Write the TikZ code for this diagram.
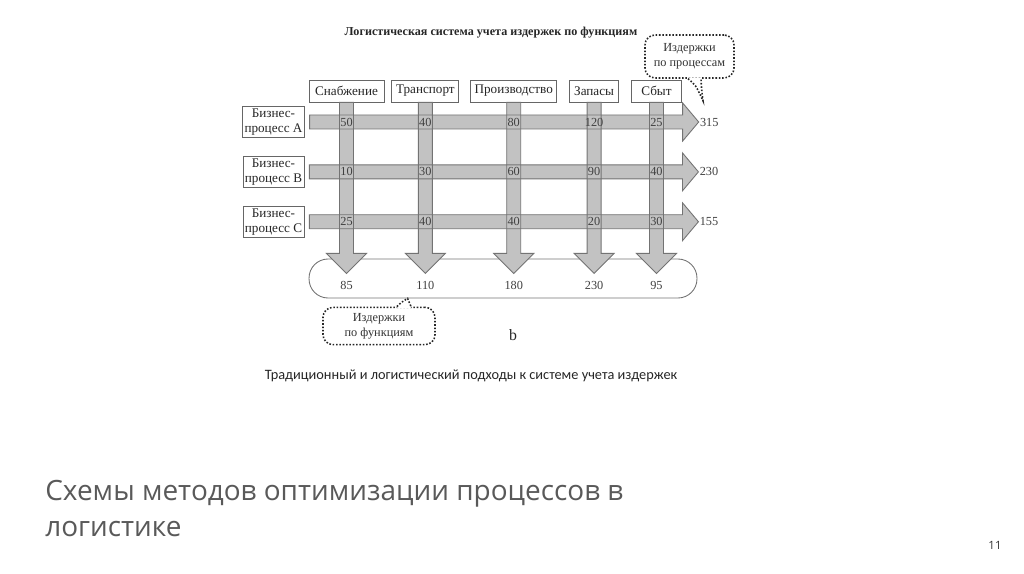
\documentclass[tikz,border=0pt]{standalone}
\usepackage{fontspec}
\setmainfont{Liberation Serif}
\newfontfamily\capfont{Carlito}
\newfontfamily\headfont{Open Sans}
\usetikzlibrary{calc}
\usetikzlibrary{positioning}

\begin{document}
\begin{tikzpicture}[x=0.02cm, y=-0.02cm,
    funcbox/.style={rectangle, draw=black!60, fill=white, line width=0.5pt, minimum height=0.44cm, inner sep=1pt, text=black!85, font=\fontsize{7.5}{9}\selectfont},
    procbox/.style={rectangle, draw=black!60, fill=white, line width=0.5pt, minimum width=1.22cm, minimum height=0.62cm, inner sep=1pt, align=center, text=black!85, font=\fontsize{7.5}{8.6}\selectfont},
    bandfill/.style={fill=black!24},
    bandline/.style={draw=black!55, line width=0.5pt},
    val/.style={inner sep=0pt, text=black!75, font=\fontsize{7}{8}\selectfont},
    note/.style={rectangle, rounded corners=0.2cm, draw=black!85, densely dotted, line width=0.9pt, fill=white, align=center, text=black!80, font=\fontsize{7}{8.5}\selectfont},
    noteline/.style={draw=black!85, densely dotted, line width=0.9pt}
]
    \useasboundingbox (0,0) rectangle (1024,574);

    \node [font=\bfseries\fontsize{6.9}{8}\selectfont, text=black!85] (title) at (491,33) {Логистическая система учета издержек по функциям};

    \node [funcbox, minimum width=1.5cm] (supply) at (346.5,91) {Снабжение};
    \node [funcbox, minimum width=1.34cm, right=0.14cm of supply] (transport) {Транспорт};
    \node [funcbox, minimum width=1.72cm, right=0.22cm of transport] (production) {Производство};
    \node [funcbox, minimum width=0.98cm, right=0.24cm of production] (stock) {Запасы};
    \node [funcbox, minimum width=1.0cm, right=0.24cm of stock] (sales) {Сбыт};

    \node [procbox] (procA) at (273.5,122) {Бизнес-\\процесс A};
    \node [procbox, below=0.36cm of procA] (procB) {Бизнес-\\процесс B};
    \node [procbox, below=0.36cm of procB] (procC) {Бизнес-\\процесс C};

    \node [draw=black!55, line width=0.5pt, rounded corners=0.38cm, minimum width=7.76cm, minimum height=0.78cm, inner sep=0pt] (funcSum) at (503,278.5) {};

    \foreach \look in {bandfill, bandline} {
        \foreach \p in {procA, procB, procC}
            \path [\look] (\p.east) ++(5,-7) -- ++(373,0) -- ++(0,-12) -- ++(16,19) coordinate (\p Tip) -- ++(-16,19) -- ++(0,-12) -- ++(-373,0) -- cycle;
        \foreach \b in {supply, transport, production, stock, sales}
            \path [\look] (\b.south) ++(-7,0) -- ++(0,151) -- ++(-13,0) -- ++(20,20) -- ++(20,-20) -- ++(-13,0) -- ++(0,-151) -- cycle;
    }

    \foreach \b/\va/\vb/\vc/\s in {supply/50/10/25/85, transport/40/30/40/110, production/80/60/40/180, stock/120/90/20/230, sales/25/40/30/95} {
        \node [val] (\b A) at (\b |- procATip) {\va};
        \node [val] (\b B) at (\b |- procBTip) {\vb};
        \node [val] (\b C) at (\b |- procCTip) {\vc};
        \node [val] (\b Sum) at ($(\b |- funcSum.south)+(0,-13)$) {\s};
    }

    \node [val, anchor=west] (totalA) at ($(procATip)+(1,0)$) {315};
    \node [val, anchor=west] (totalB) at ($(procBTip)+(1,0)$) {230};
    \node [val, anchor=west] (totalC) at ($(procCTip)+(1,0)$) {155};

    \node [note, minimum width=1.78cm, minimum height=0.86cm] (procNote) at (689.5,56.5) {Издержки\\по процессам};
    \coordinate (procNoteTip) at ($(procNote.south)+(13.5,22)$);
    \fill [white] ($(procNote.south)+(-1.5,-1.5)$) .. controls ($(procNote.south)+(6,6)$) .. (procNoteTip) .. controls ($(procNote.south)+(12,10)$) .. ($(procNote.south)+(11.5,-1.5)$) -- cycle;
    \draw [noteline] ($(procNote.south)+(-1.5,0)$) .. controls ($(procNote.south)+(6,6)$) .. (procNoteTip) .. controls ($(procNote.south)+(12,10)$) .. ($(procNote.south)+(11.5,0)$);

    \node [note, minimum width=2.24cm, minimum height=0.68cm] (funcNote) at (379,326) {Издержки\\по функциям};
    \coordinate (funcNoteTip) at ($(funcSum.south west)+(99,0)$);
    \fill [white] ($(funcNote.north)+(18,1.5)$) .. controls ($(funcNote.north)+(22,-4)$) .. (funcNoteTip) -- ($(funcNote.north)+(32,1.5)$) -- cycle;
    \draw [noteline] ($(funcNote.north)+(18,0)$) .. controls ($(funcNote.north)+(22,-4)$) .. (funcNoteTip) -- ($(funcNote.north)+(32,0)$);

    \node [font=\fontsize{9}{10}\selectfont, text=black!85] (partLabel) at (513,335) {b};

    \node [font=\capfont\fontsize{8.15}{9}\selectfont, text=black!85] (caption) at (471,376) {Традиционный и логистический подходы к системе учета издержек};

    \node [anchor=north west, inner sep=0pt, align=left, text=black!65, font=\headfont\fontsize{15.9}{20.2}\selectfont] (heading) at (45,480) {Схемы методов оптимизации процессов в\\логистике};

    \node [text=black!80, font=\headfont\fontsize{6.5}{8}\selectfont] (pageNum) at (995,545) {11};
\end{tikzpicture}
\end{document}
